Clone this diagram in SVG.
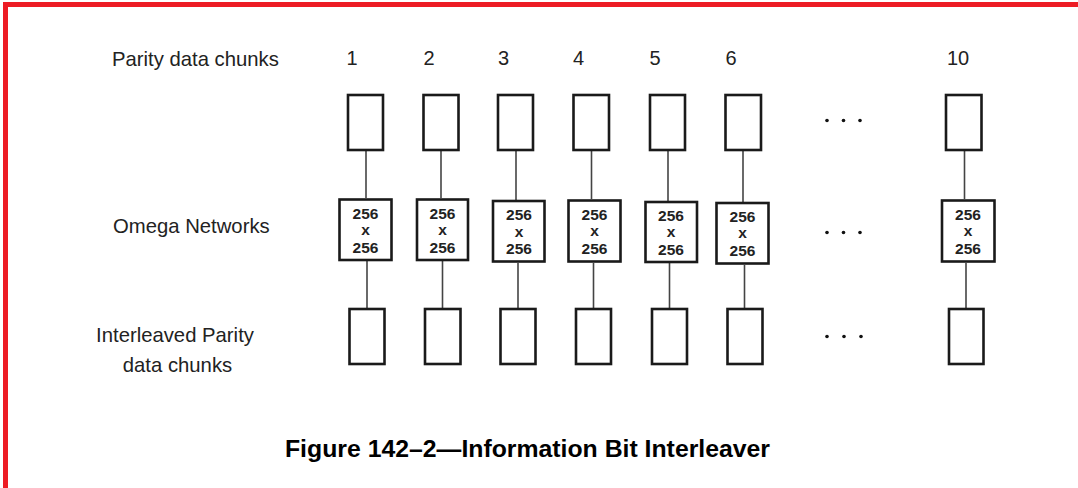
<svg xmlns="http://www.w3.org/2000/svg" width="1078" height="488" viewBox="0 0 1078 488">
<style>
.lbl{font-family:"Liberation Sans",Arial,sans-serif;font-size:20.3px;fill:#222}
.num{font-family:"Liberation Sans",Arial,sans-serif;font-size:20px;fill:#222;text-anchor:middle}
.box{fill:#fff;stroke:#1a1a1a;stroke-width:2.6}
.om{font-family:"Liberation Sans",Arial,sans-serif;font-size:15.5px;font-weight:bold;fill:#222;text-anchor:middle}
.con line{stroke:#444;stroke-width:1.6}
.dot{fill:#111}
.title{font-family:"Liberation Sans",Arial,sans-serif;font-size:24.8px;font-weight:bold;fill:#000;text-anchor:middle}
</style>
<rect width="1078" height="488" fill="#fff"/>
<path d="M5.5,495 V4.5 H1085" fill="none" stroke="#ed1c24" stroke-width="5"/>

<g id="labels">
<text class="lbl" x="112" y="65.5">Parity data chunks</text>
<text class="lbl" x="113" y="232.5">Omega Networks</text>
<text class="lbl" x="175" y="341.5" text-anchor="middle">Interleaved Parity</text>
<text class="lbl" x="177.5" y="371.5" text-anchor="middle">data chunks</text>
<text class="num" x="352" y="65">1</text>
<text class="num" x="429" y="65">2</text>
<text class="num" x="503.5" y="65">3</text>
<text class="num" x="578.5" y="65">4</text>
<text class="num" x="655" y="65">5</text>
<text class="num" x="731" y="65">6</text>
<text class="num" x="958" y="65">10</text>
</g>

<g id="connectors" class="con">
<line x1="366" y1="151" x2="366" y2="198"/>
<line x1="367" y1="261" x2="367" y2="308"/>
<line x1="441" y1="151" x2="441" y2="198"/>
<line x1="442.5" y1="261" x2="442.5" y2="308"/>
<line x1="516" y1="151" x2="516" y2="200"/>
<line x1="518" y1="263" x2="518" y2="308"/>
<line x1="591.5" y1="151" x2="591.5" y2="199"/>
<line x1="593.5" y1="263" x2="593.5" y2="308"/>
<line x1="668" y1="151" x2="668" y2="201"/>
<line x1="669.5" y1="263" x2="669.5" y2="308"/>
<line x1="743" y1="151" x2="743" y2="202"/>
<line x1="744.5" y1="265" x2="744.5" y2="308"/>
<line x1="964.5" y1="151" x2="964.5" y2="199"/>
<line x1="966" y1="263" x2="966" y2="308"/>
</g>

<g id="col1">
<rect class="box" x="348" y="95" width="35" height="55"/>
<rect class="box" x="339.5" y="199.5" width="52" height="60.5"/>
<text class="om" x="365.5" y="218.5">256</text><text class="om" x="365.5" y="235">x</text><text class="om" x="365.5" y="252.5">256</text>
<rect class="box" x="349.5" y="309" width="35" height="55"/>
</g>
<g id="col2">
<rect class="box" x="423.5" y="95" width="35" height="55"/>
<rect class="box" x="417" y="199.5" width="51" height="60.5"/>
<text class="om" x="442.5" y="218.5">256</text><text class="om" x="442.5" y="235">x</text><text class="om" x="442.5" y="252.5">256</text>
<rect class="box" x="425" y="309" width="35.5" height="55"/>
</g>
<g id="col3">
<rect class="box" x="498" y="95" width="35" height="55"/>
<rect class="box" x="493" y="201" width="51.5" height="60.5"/>
<text class="om" x="519" y="220">256</text><text class="om" x="519" y="236.5">x</text><text class="om" x="519" y="254">256</text>
<rect class="box" x="500.5" y="309" width="35" height="55"/>
</g>
<g id="col4">
<rect class="box" x="573.5" y="95" width="35.5" height="55"/>
<rect class="box" x="568.5" y="200.5" width="52" height="61"/>
<text class="om" x="594.5" y="219.5">256</text><text class="om" x="594.5" y="236">x</text><text class="om" x="594.5" y="253.5">256</text>
<rect class="box" x="576" y="309" width="35" height="55"/>
</g>
<g id="col5">
<rect class="box" x="650" y="95" width="35" height="55"/>
<rect class="box" x="645.5" y="202" width="51.5" height="60"/>
<text class="om" x="671" y="220.5">256</text><text class="om" x="671" y="237">x</text><text class="om" x="671" y="254.5">256</text>
<rect class="box" x="652" y="309" width="35" height="55"/>
</g>
<g id="col6">
<rect class="box" x="725.5" y="95" width="35.5" height="55"/>
<rect class="box" x="716.5" y="203" width="52" height="60.5"/>
<text class="om" x="742.5" y="221.5">256</text><text class="om" x="742.5" y="238">x</text><text class="om" x="742.5" y="255.5">256</text>
<rect class="box" x="727.5" y="309" width="35" height="55"/>
</g>
<g id="col10">
<rect class="box" x="946" y="95" width="35.5" height="55"/>
<rect class="box" x="942" y="200.5" width="52.5" height="61"/>
<text class="om" x="968" y="219.5">256</text><text class="om" x="968" y="236">x</text><text class="om" x="968" y="253.5">256</text>
<rect class="box" x="949" y="309" width="34.5" height="55"/>
</g>

<g id="ellipses">
<circle class="dot" cx="827" cy="120.5" r="1.8"/><circle class="dot" cx="843.5" cy="120.5" r="1.8"/><circle class="dot" cx="860" cy="120.5" r="1.8"/>
<circle class="dot" cx="827" cy="232.5" r="1.8"/><circle class="dot" cx="843.5" cy="232.5" r="1.8"/><circle class="dot" cx="860" cy="232.5" r="1.8"/>
<circle class="dot" cx="827" cy="336.5" r="1.8"/><circle class="dot" cx="844" cy="336.5" r="1.8"/><circle class="dot" cx="861" cy="336.5" r="1.8"/>
</g>

<text class="title" x="527.5" y="457">Figure 142–2—Information Bit Interleaver</text>
</svg>
